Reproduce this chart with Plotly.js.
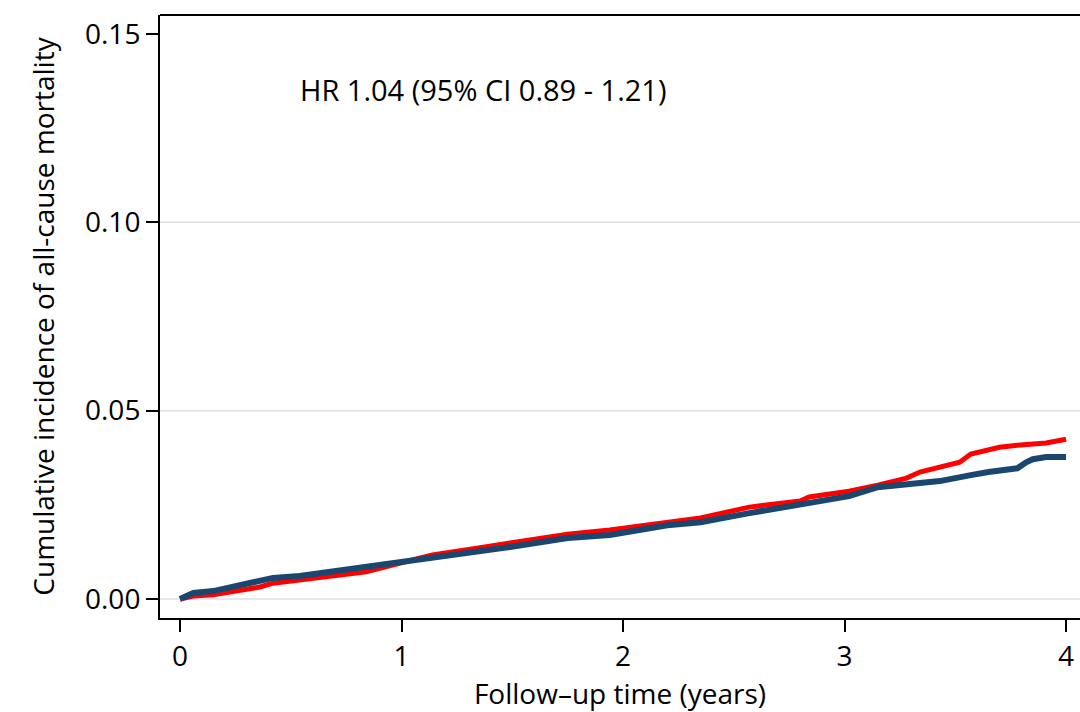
<!DOCTYPE html>
<html>
<head>
<meta charset="utf-8">
<script src="https://cdn.plot.ly/plotly-3.0.1.min.js"></script>
<style>html,body{margin:0;padding:0;background:#fff;}#chart{width:1080px;height:712px;}</style>
</head>
<body>
<div id="chart"></div>
<script>
// Follow-up time (years) and cumulative incidence
const redTime = [0, 0.06, 0.15, 0.36, 0.42, 0.54, 0.81, 0.84, 0.99, 1.14, 1.34, 1.49, 1.75, 1.94, 2.20, 2.35, 2.57, 2.80, 2.84, 3.02, 3.15, 3.28, 3.34, 3.43, 3.52, 3.57, 3.70, 3.78, 3.91, 4.00];
const redCI   = [0, 0.0008, 0.0011, 0.0032, 0.0042, 0.0050, 0.0069, 0.0072, 0.0095, 0.0117, 0.0135, 0.0149, 0.0172, 0.0183, 0.0204, 0.0215, 0.0244, 0.0260, 0.0271, 0.0286, 0.0302, 0.0321, 0.0337, 0.0350, 0.0363, 0.0385, 0.0403, 0.0408, 0.0414, 0.0424];
const blueTime = [0, 0.03, 0.06, 0.15, 0.42, 0.54, 0.84, 0.99, 1.14, 1.34, 1.49, 1.75, 1.94, 2.20, 2.35, 2.57, 2.80, 3.02, 3.15, 3.22, 3.28, 3.34, 3.43, 3.52, 3.57, 3.65, 3.70, 3.78, 3.82, 3.85, 3.91, 4.00];
const blueCI   = [0, 0.0010, 0.0016, 0.0021, 0.0056, 0.0061, 0.0085, 0.0098, 0.0109, 0.0127, 0.0138, 0.0162, 0.0170, 0.0196, 0.0204, 0.0228, 0.0249, 0.0273, 0.0297, 0.0300, 0.0302, 0.0308, 0.0313, 0.0321, 0.0329, 0.0337, 0.0342, 0.0347, 0.0363, 0.0371, 0.0377, 0.0377];
const xTicks = [0, 1, 2, 3, 4];
const yTicks = [0, 0.05, 0.10, 0.15];
const gridVals = [0, 0.05, 0.10];
const hrText = "HR 1.04 (95% CI 0.89 - 1.21)";

const FONT = "'Open Sans', 'Noto Sans', sans-serif";

const traces = [
  {x: redTime, y: redCI, type: 'scatter', mode: 'lines', line: {color: '#ff0000', width: 5}, showlegend: false, hoverinfo: 'skip'},
  {x: blueTime, y: blueCI, type: 'scatter', mode: 'lines', line: {color: '#1a476f', width: 6}, showlegend: false, hoverinfo: 'skip'}
];

const shapes = gridVals.map(v => ({type: 'line', xref: 'paper', x0: 0, x1: 1, yref: 'y', y0: v, y1: v, line: {color: '#e1e1e1', width: 1.5}, layer: 'below'}));
shapes.push({type: 'line', xref: 'paper', x0: 0, x1: 1, yref: 'paper', y0: 1, y1: 1, line: {color: '#000', width: 2}});

const layout = {
  width: 1080, height: 712,
  margin: {l: 160, r: 0, t: 15, b: 94},
  paper_bgcolor: '#fff', plot_bgcolor: '#fff',
  font: {family: FONT, color: '#000', size: 28},
  showlegend: false,
  xaxis: {
    range: [-0.0903, 4.063], tickvals: xTicks, ticktext: xTicks.map(String),
    showgrid: false, zeroline: false, showline: true, linecolor: '#000', linewidth: 2,
    ticks: 'outside', ticklen: 12, tickwidth: 2, tickcolor: '#000',
    tickfont: {size: 28, family: FONT},
    title: {text: 'Follow\u2013up time (years)', font: {size: 28, family: FONT}, standoff: 10},
    automargin: false
  },
  yaxis: {
    range: [-0.00504, 0.15504], tickvals: yTicks, tickformat: '.2f',
    showgrid: false, zeroline: false, showline: true, linecolor: '#000', linewidth: 2,
    ticks: 'outside', ticklen: 12, tickwidth: 2, tickcolor: '#000',
    tickfont: {size: 28, family: FONT},
    title: {text: 'Cumulative incidence of all-cause mortality', font: {size: 28, family: FONT}, standoff: 22},
    automargin: false
  },
  shapes: shapes,
  annotations: [{
    x: 0.533, y: 0.1353, xref: 'x', yref: 'y', xanchor: 'left', yanchor: 'middle',
    text: hrText, showarrow: false, font: {size: 29, family: FONT, color: '#000'}
  }]
};

Plotly.newPlot('chart', traces, layout, {displayModeBar: false, staticPlot: true});
</script>
</body>
</html>
